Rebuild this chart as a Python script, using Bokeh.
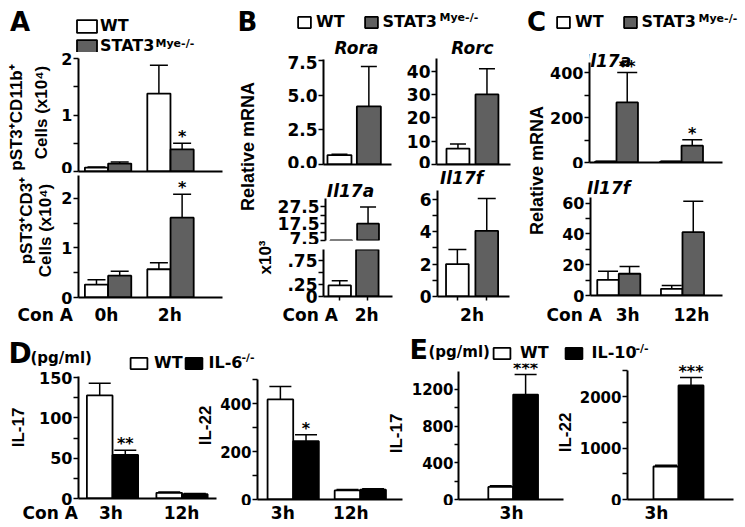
import numpy as np
from math import pi
from bokeh.plotting import figure
from bokeh.layouts import row, column
from bokeh.core.properties import value
from bokeh.models import (Range1d, FixedTicker, ColumnDataSource, Label, LabelSet,
                          Legend, LegendItem)
from bokeh.embed import file_html
from bokeh.resources import INLINE

# ---------------- data ----------------
A_times = ["0h", "2h"]
A_cd11b_wt, A_cd11b_wt_sem = [0.07, 1.38], [0.01, 0.50]
A_cd11b_ko, A_cd11b_ko_sem = [0.14, 0.39], [0.03, 0.11]
A_cd11b_sig = ["", "*"]
A_cd3_wt, A_cd3_wt_sem = [0.26, 0.57], [0.10, 0.13]
A_cd3_ko, A_cd3_ko_sem = [0.44, 1.61], [0.09, 0.47]
A_cd3_sig = ["", "*"]
A_yticks, A_ylabels, A_yminor = [0, 1, 2], ["0", "1", "2"], [0.5, 1.5]

B_times = ["2h"]
B_rora_wt, B_rora_wt_sem = [0.68], [0.07]
B_rora_ko, B_rora_ko_sem = [4.2], [2.9]
B_rora_yticks, B_rora_ylabels = [0, 2.5, 5.0, 7.5], ["0.0", "2.5", "5.0", "7.5"]
B_rorc_wt, B_rorc_wt_sem = [6.8], [2.0]
B_rorc_ko, B_rorc_ko_sem = [30.0], [11.0]
B_rorc_yticks = [0, 10, 20, 30, 40]
B_il17a_wt, B_il17a_wt_sem = [0.23], [0.10]
B_il17a_ko, B_il17a_ko_sem = [17.5], [10.0]
B_il17a_hi_yticks, B_il17a_hi_ylabels, B_il17a_hi_yminor = [7.5, 17.5, 27.5], ["7.5", "17.5", "27.5"], [12.5, 22.5]
B_il17a_lo_yticks, B_il17a_lo_ylabels, B_il17a_lo_yminor = [0, 0.25, 0.75], ["0", ".25", ".75"], [0.5]
B_il17f_wt, B_il17f_wt_sem = [2.0], [0.9]
B_il17f_ko, B_il17f_ko_sem = [4.05], [2.0]
B_il17f_yticks, B_il17f_yminor = [0, 2, 4, 6], [1, 3, 5]

C_times = ["3h", "12h"]
C_il17a_wt, C_il17a_wt_sem = [4, 4], [1.5, 2]
C_il17a_ko, C_il17a_ko_sem = [268, 75], [133, 26]
C_il17a_sig = ["**", "*"]
C_il17a_yticks, C_il17a_yminor = [0, 200, 400], [100, 300]
C_il17f_wt, C_il17f_wt_sem = [10.2, 4.3], [5.6, 2.2]
C_il17f_ko, C_il17f_ko_sem = [14.1, 41.1], [4.7, 20.1]
C_il17f_yticks, C_il17f_yminor = [0, 20, 40, 60], [10, 30, 50]

D_times = ["3h", "12h"]
D_il17_wt, D_il17_wt_sem = [128, 7], [15, 1]
D_il17_ko, D_il17_ko_sem = [54, 5.3], [6, 0.8]
D_il17_sig = ["**", ""]
D_il17_yticks, D_il17_yminor = [0, 50, 100, 150], [25, 75, 125]
D_il22_wt, D_il22_wt_sem = [417, 38], [54, 4]
D_il22_ko, D_il22_ko_sem = [243, 41], [27, 4]
D_il22_sig = ["*", ""]
D_il22_yticks, D_il22_yminor = [0, 200, 400], [100, 300, 500]

E_times = ["3h"]
E_il17_wt, E_il17_wt_sem = [137], [14]
E_il17_ko, E_il17_ko_sem = [1143], [219]
E_il17_sig = ["***"]
E_il17_yticks, E_il17_yminor = [0, 400, 800, 1200], [200, 600, 1000]
E_il22_wt, E_il22_wt_sem = [641], [25]
E_il22_ko, E_il22_ko_sem = [2214], [155]
E_il22_sig = ["***"]
E_il22_yticks, E_il22_yminor = [0, 1000, 2000], [500, 1500, 2500]

# ---------------- style / helpers ----------------
HF, VF = "DejaVu Sans", "Liberation Sans"
GREY, BLACK = "#606060", "#000000"


def fig(canvas, frame, xr, yr, x_axis=False, y_axis=False):
    cx0, cy0, cx1, cy1 = canvas
    fx0, fy0, fx1, fy1 = frame
    p = figure(width=cx1 - cx0, height=cy1 - cy0, output_backend="svg",
               toolbar_location=None, title=None,
               x_range=Range1d(*xr), y_range=Range1d(*yr),
               x_axis_location="below" if x_axis else None,
               y_axis_location="left" if y_axis else None,
               min_border_left=fx0 - cx0, min_border_right=cx1 - fx1,
               min_border_top=fy0 - cy0, min_border_bottom=cy1 - fy1,
               border_fill_color=None, background_fill_color=None, outline_line_color=None)
    p.grid.visible = False
    return dict(p=p, frame=frame, xr=xr, yr=yr)


def blank(canvas, origin=None):
    cx0, cy0, cx1, cy1 = canvas
    lx, ly = origin if origin else (cx0, cy0)
    return fig(canvas, (lx, ly, cx1, cy1), (lx, cx1), (cy1, ly))


def to_data(P, X, Y):
    fx0, fy0, fx1, fy1 = P["frame"]
    xr, yr = P["xr"], P["yr"]
    return (xr[0] + (X - fx0) * (xr[1] - xr[0]) / (fx1 - fx0),
            yr[0] + (fy1 - Y) * (yr[1] - yr[0]) / (fy1 - fy0))


def put(P, s, X, Y, size=17, font=HF, style="bold", align="center", rotated=False):
    xd, yd = to_data(P, X, Y)
    P["p"].add_layout(Label(x=xd, y=yd, text=s, text_font=font, text_font_style=style,
                            text_font_size=f"{size}px", text_align=align,
                            text_baseline="middle", angle=pi / 2 if rotated else 0.0,
                            text_color="black"))


def cat_x(P, pos):
    fx0, _, fx1, _ = P["frame"]
    xr = P["xr"]
    return fx0 + (pos - xr[0]) / (xr[1] - xr[0]) * (fx1 - fx0)


def bars(wt, wt_e, ko, ko_e, ko_fill, off, sig=None):
    s1 = dict(v=wt, e=wt_e, fill="white", off=-off)
    s2 = dict(v=ko, e=ko_e, fill=ko_fill, off=off)
    if sig is not None:
        s2["sig"] = sig
    return [s1, s2]


def panel(canvas, frame, xr, yr, cats, series, bar_w, yticks, ylabels=None, yminor=(),
          show_x=True, bar_ticks=False, xbounds=None, ybounds=None,
          yfont="16px", ytick=5, cap=18):
    P = fig(canvas, frame, xr, yr, x_axis=show_x, y_axis=True)
    p = P["p"]
    idx = np.arange(len(cats))
    centers = []
    for s in series:
        xs = idx + s["off"]
        centers += [float(c) for c in xs]
        top = np.asarray(s["v"], float)
        err = top + np.asarray(s["e"], float)
        src = ColumnDataSource(dict(x=xs, top=top, err=err,
                                    sig=s.get("sig", [""] * len(cats))))
        p.segment(x0="x", y0="top", x1="x", y1="err", source=src,
                  line_color="black", line_width=1.5)
        p.scatter(x="x", y="err", marker="dash", size=cap, source=src,
                  line_color="black", line_width=1.5)
        p.vbar(x="x", top="top", bottom=0, width=bar_w, source=src,
               fill_color=s["fill"], line_color="black", line_width=1.8)
        if "sig" in s:
            p.add_layout(LabelSet(x="x", y="err", text="sig", source=src,
                                  text_align="center", text_baseline="alphabetic",
                                  y_offset=1, text_font=value(HF),
                                  text_font_style="bold", text_font_size="16px",
                                  text_color="black"))
    axes = []
    yax = p.yaxis[0]
    yax.ticker = FixedTicker(ticks=list(yticks), minor_ticks=list(yminor))
    labs = ylabels or [str(t) for t in yticks]
    yax.major_label_overrides = {t: l for t, l in zip(yticks, labs)}
    yax.major_tick_in = 0
    yax.major_tick_out = ytick
    yax.minor_tick_in = 0
    yax.minor_tick_out = ytick
    yax.major_label_standoff = 1
    yax.major_label_text_font_size = yfont
    if ybounds is not None:
        yax.bounds = ybounds
    axes.append(yax)
    if show_x:
        xax = p.xaxis[0]
        xax.ticker = FixedTicker(ticks=[], minor_ticks=centers if bar_ticks else [])
        xax.major_tick_in = 0
        xax.major_tick_out = 0
        xax.minor_tick_in = 0
        xax.minor_tick_out = 4 if bar_ticks else 0
        xax.major_label_standoff = 0
        if xbounds is not None:
            xax.bounds = xbounds
        axes.append(xax)
    for ax in axes:
        ax.axis_line_width = 2
        ax.axis_line_color = "black"
        ax.major_tick_line_width = 1.5
        ax.minor_tick_line_width = 1.5
        ax.major_tick_line_color = "black"
        ax.minor_tick_line_color = "black"
        ax.major_label_text_font = HF
        ax.major_label_text_font_style = "bold"
        ax.major_label_text_color = "black"
    return P


def legend(P, items, orientation="horizontal", gw=16, gh=14, spacing=10, standoff=4):
    p = P["p"]
    its = []
    for lab, fill in items:
        r = p.vbar(x=np.array([np.nan]), top=np.array([np.nan]), width=1,
                   fill_color=fill, line_color="black", line_width=1.8)
        its.append(LegendItem(label=value(lab), renderers=[r]))
    p.add_layout(Legend(items=its, location="top_left", orientation=orientation,
                        glyph_width=gw, glyph_height=gh, label_standoff=standoff,
                        spacing=spacing, padding=0, margin=0, border_line_color=None,
                        background_fill_alpha=0, label_text_font=HF,
                        label_text_font_style="bold", label_text_font_size="16px",
                        label_text_color="black", label_height=gh, label_width=10))


def sup(P, s, X, Y):
    put(P, s, X, Y, size=11, align="left")


def cat_labels(strip, P, cats, shift, y, size=17):
    for i, c in enumerate(cats):
        put(strip, c, cat_x(P, i + shift), y, size=size)


def W(P):
    # wrap each figure in its own box so that sibling plots do not get their frames aligned
    return column(P["p"])


# ---------------- panel A ----------------
A_hl = blank((0, 0, 72, 52))
put(A_hl, "A", 19.5, 21, size=26)
A_hg = blank((72, 0, 228, 52), (74, 16))
legend(A_hg, [("WT", "white"), ("STAT3", GREY)], "vertical", gw=25, gh=16, spacing=1, standoff=1)
sup(A_hg, "Mye-/-", 155, 42.5)

A_left = blank((0, 52, 58, 305))
put(A_left, "pST3\u207aCD11b\u207a", 16, 117, font=VF, rotated=True)
put(A_left, "Cells (x10\u2074)", 41, 112, font=VF, rotated=True)
put(A_left, "pST3\u207aCD3\u207a", 26, 220, font=VF, rotated=True)
put(A_left, "Cells (x10\u2074)", 45, 230, font=VF, rotated=True)

A1 = panel((58, 52, 228, 173), (76, 58, 222, 171), (-0.474, 1.833), (0, 2.0), A_times,
           bars(A_cd11b_wt, A_cd11b_wt_sem, A_cd11b_ko, A_cd11b_ko_sem, GREY, 0.186, A_cd11b_sig),
           0.371, A_yticks, A_ylabels, A_yminor, cap=18)
A2 = panel((58, 173, 228, 305), (76, 175, 222, 297), (-0.474, 1.833), (0, 2.46), A_times,
           bars(A_cd3_wt, A_cd3_wt_sem, A_cd3_ko, A_cd3_ko_sem, GREY, 0.186, A_cd3_sig),
           0.371, A_yticks, A_ylabels, A_yminor, cap=18)

A_bot = blank((0, 305, 228, 328))
put(A_bot, "Con A", 17, 314, align="left")
cat_labels(A_bot, A2, A_times, 0.0, 314)

# ---------------- panel B ----------------
B_strip = blank((228, 0, 274, 328))
put(B_strip, "B", 247, 21, size=26)
put(B_strip, "Relative mRNA", 247, 146, size=18, font=VF, rotated=True)
put(B_strip, "x10\u00b3", 265, 257, font=VF, rotated=True)

B_head = blank((274, 0, 520, 55), (296, 12))
legend(B_head, [("WT", "white"), ("STAT3", GREY)], gw=16, gh=14, spacing=18)
sup(B_head, "Mye-/-", 439, 17)
put(B_head, "Rora", 356, 47, style="bold italic")
put(B_head, "Rorc", 472, 47, style="bold italic")

B_rora = panel((274, 55, 400, 168), (323, 59, 391, 164), (-0.451, 0.549), (0, 7.6), B_times,
               bars(B_rora_wt, B_rora_wt_sem, B_rora_ko, B_rora_ko_sem, GREY, 0.216),
               0.353, B_rora_yticks, B_rora_ylabels, yfont="17px", cap=16)
B_t1 = blank((274, 168, 400, 198))
put(B_t1, "Il17a", 350, 190, style="bold italic")
B_hi = panel((274, 198, 400, 244), (323, 198, 392, 240), (-0.435, 0.565), (7.5, 32.5), B_times,
             bars(B_il17a_wt, B_il17a_wt_sem, B_il17a_ko, B_il17a_ko_sem, GREY, 0.2),
             0.326, B_il17a_hi_yticks, B_il17a_hi_ylabels, B_il17a_hi_yminor,
             show_x=False, yfont="17px", cap=16)
B_lo = panel((274, 244, 400, 305), (323, 249, 392, 296), (-0.435, 0.565), (0, 0.98), B_times,
             bars(B_il17a_wt, B_il17a_wt_sem, B_il17a_ko, B_il17a_ko_sem, GREY, 0.2),
             0.326, B_il17a_lo_yticks, B_il17a_lo_ylabels, B_il17a_lo_yminor,
             bar_ticks=True, yfont="17px", cap=16)

B_rorc = panel((400, 55, 520, 168), (436, 58, 510, 164), (-0.486, 0.514), (0, 45.4), B_times,
               bars(B_rorc_wt, B_rorc_wt_sem, B_rorc_ko, B_rorc_ko_sem, GREY, 0.196),
               0.31, B_rorc_yticks, yfont="17px", cap=16)
B_t2 = blank((400, 168, 520, 187))
put(B_t2, "Il17f", 461, 177.5, style="bold italic")
B_f = panel((400, 187, 520, 305), (437, 190, 509, 296), (-0.48, 0.52), (0, 6.54), B_times,
            bars(B_il17f_wt, B_il17f_wt_sem, B_il17f_ko, B_il17f_ko_sem, GREY, 0.204),
            0.315, B_il17f_yticks, None, B_il17f_yminor, bar_ticks=True, yfont="17px", cap=18)

B_bot = blank((274, 305, 520, 328))
put(B_bot, "Con A", 282, 314, align="left")
cat_labels(B_bot, B_lo, B_times, 0.19, 314)
cat_labels(B_bot, B_f, B_times, 0.0, 314)

# ---------------- panel C ----------------
C_strip = blank((520, 0, 546, 328))
put(C_strip, "C", 536, 21, size=26)
put(C_strip, "Relative mRNA", 536.5, 170, size=18, font=VF, rotated=True)

C_head = blank((546, 0, 745, 50), (555, 12))
legend(C_head, [("WT", "white"), ("STAT3", GREY)], gw=16, gh=14, spacing=18)
sup(C_head, "Mye-/-", 698, 17.5)

C_a = panel((546, 50, 745, 168), (589, 50, 722, 162), (-0.415, 1.63), (0, 499.5), C_times,
            bars(C_il17a_wt, C_il17a_wt_sem, C_il17a_ko, C_il17a_ko_sem, GREY, 0.165, C_il17a_sig),
            0.33, C_il17a_yticks, None, C_il17a_yminor, ybounds=(0, 446), cap=20)
put(C_a, "Il17a", 607, 60, style="bold italic")
C_t = blank((546, 168, 745, 196))
put(C_t, "Il17f", 608, 187, style="bold italic")
C_f = panel((546, 196, 745, 305), (590, 197, 722, 295), (-0.444, 1.628), (0, 63.6), C_times,
            bars(C_il17f_wt, C_il17f_wt_sem, C_il17f_ko, C_il17f_ko_sem, GREY, 0.169),
            0.338, C_il17f_yticks, None, C_il17f_yminor, cap=20)
C_bot = blank((546, 305, 745, 328))
put(C_bot, "Con A", 546, 314, align="left")
cat_labels(C_bot, C_f, C_times, 0.14, 314)

# ---------------- panel D ----------------
D_hl = blank((0, 328, 126, 370))
put(D_hl, "D", 19.5, 353, size=28)
put(D_hl, "(pg/ml)", 30, 357, size=15, align="left")
D_hg = blank((126, 328, 408, 370), (128, 353))
legend(D_hg, [("WT", "white"), ("IL-6", BLACK)], gw=21, gh=14, spacing=0, standoff=5)
sup(D_hg, "-/-", 241, 356.5)

D_left = blank((0, 370, 36, 505))
put(D_left, "IL-17", 18, 427, font=VF, rotated=True)
D1 = panel((36, 370, 217, 505), (76, 376, 216, 498), (-0.489, 1.496), (0, 151.5), D_times,
           bars(D_il17_wt, D_il17_wt_sem, D_il17_ko, D_il17_ko_sem, BLACK, 0.184, D_il17_sig),
           0.369, D_il17_yticks, None, D_il17_yminor, cap=22)
put(D1, "IL-22", 205, 425, font=VF, rotated=True)
D2 = panel((217, 370, 408, 505), (255, 379, 408, 499), (-0.532, 1.718), (0, 500), D_times,
           bars(D_il22_wt, D_il22_wt_sem, D_il22_ko, D_il22_ko_sem, BLACK, 0.191, D_il22_sig),
           0.382, D_il22_yticks, None, D_il22_yminor, xbounds=(-0.532, 1.63),
           yfont="15px", cap=22)
put(D2, "IL-17", 396, 433, font=VF, rotated=True)

# ---------------- panel E ----------------
E_hl = blank((408, 328, 490, 363))
put(E_hl, "E", 409, 349, size=27, align="left")
put(E_hl, "(pg/ml)", 428, 351, size=15, align="left")
E_hg = blank((490, 328, 745, 363), (491, 343))
legend(E_hg, [("WT", "white"), ("IL-10", BLACK)], gw=21, gh=14, spacing=14, standoff=8)
sup(E_hg, "-/-", 635, 347.5)

E1 = panel((408, 363, 576, 505), (455, 363, 576, 499), (-0.519, 0.601), (0, 1482.2), E_times,
           bars(E_il17_wt, E_il17_wt_sem, E_il17_ko, E_il17_ko_sem, BLACK, 0.118, E_il17_sig),
           0.236, E_il17_yticks, None, E_il17_yminor, xbounds=(-0.519, 0.481),
           ybounds=(0, 1395), yfont="15px", ytick=4, cap=22)
put(E1, "IL-22", 565, 432, font=VF, rotated=True)
E2 = panel((576, 363, 745, 505), (627, 363, 733, 499), (-0.481, 0.519), (0, 2640.9), E_times,
           bars(E_il22_wt, E_il22_wt_sem, E_il22_ko, E_il22_ko_sem, BLACK, 0.118, E_il22_sig),
           0.236, E_il22_yticks, None, E_il22_yminor, ybounds=(0, 2505),
           yfont="15px", cap=22)

bot = blank((0, 505, 745, 527))
put(bot, "Con A", 22, 512, align="left")
cat_labels(bot, D1, D_times, 0.0, 512)
cat_labels(bot, D2, D_times, -0.13, 512)
cat_labels(bot, E1, E_times, 0.0, 512)
cat_labels(bot, E2, E_times, -0.208, 512)

# ---------------- layout ----------------
colA = column(row(W(A_hl), W(A_hg)),
              row(W(A_left), column(W(A1), W(A2))),
              W(A_bot))
B_main = column(W(B_head),
                row(column(W(B_rora), W(B_t1), W(B_hi), W(B_lo)),
                    column(W(B_rorc), W(B_t2), W(B_f))),
                W(B_bot))
colB = row(W(B_strip), B_main)
colC = row(W(C_strip), column(W(C_head), W(C_a), W(C_t), W(C_f), W(C_bot)))
top = row(colA, colB, colC)
D_part = column(row(W(D_hl), W(D_hg)), row(W(D_left), W(D1), W(D2)))
E_part = column(row(W(E_hl), W(E_hg)), row(W(E1), W(E2)))
bottom = column(row(D_part, E_part), W(bot))
layout = column(top, bottom)

with open("out.html", "w") as fh:
    fh.write(file_html(layout, INLINE, title="figure"))
